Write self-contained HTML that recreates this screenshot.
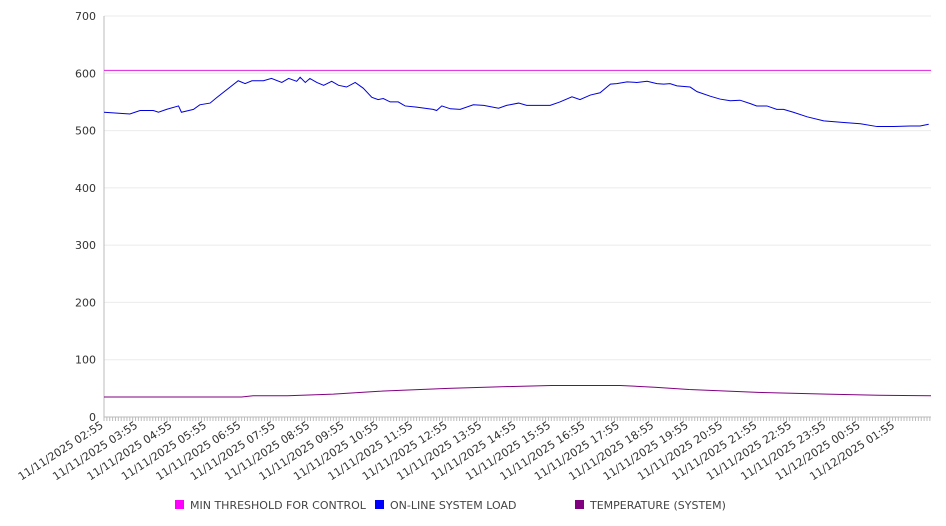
<!DOCTYPE html>
<html><head><meta charset="utf-8"><style>
html,body{margin:0;padding:0;background:#fff;}
svg{display:block;font-family:"DejaVu Sans","Liberation Sans",sans-serif;}
</style></head><body>
<svg id="chart" width="946" height="526" viewBox="0 0 946 526" xmlns="http://www.w3.org/2000/svg"></svg>
<script>
const yTicks=[0,100,200,300,400,500,600,700];
const xTickLabels=["11/11/2025 02:55","11/11/2025 03:55","11/11/2025 04:55","11/11/2025 05:55","11/11/2025 06:55","11/11/2025 07:55","11/11/2025 08:55","11/11/2025 09:55","11/11/2025 10:55","11/11/2025 11:55","11/11/2025 12:55","11/11/2025 13:55","11/11/2025 14:55","11/11/2025 15:55","11/11/2025 16:55","11/11/2025 17:55","11/11/2025 18:55","11/11/2025 19:55","11/11/2025 20:55","11/11/2025 21:55","11/11/2025 22:55","11/11/2025 23:55","11/12/2025 00:55","11/12/2025 01:55"];
const thresholdValue=605;
const loadMinutes=[0,45,63,86,95,109,130,135,156,167,185,197,234,246,258,278,292,310,322,336,342,351,359,371,383,397,409,423,438,452,467,478,487,499,513,525,545,574,580,589,604,621,644,662,688,702,723,737,778,795,816,830,848,865,883,894,912,929,947,964,976,987,999,1022,1034,1057,1074,1092,1109,1127,1138,1156,1173,1185,1202,1226,1255,1290,1319,1348,1377,1406,1423,1438];
const loadValues=[532,529,535,535,532,537,543,532,537,545,548,558,587,582,587,587,591,584,591,586,593,584,591,584,579,586,579,576,584,574,558,554,556,550,550,543,541,537,535,543,538,537,545,544,539,544,548,544,544,550,559,554,562,566,581,582,585,584,586,582,581,582,578,576,568,560,555,552,553,547,543,543,537,537,532,524,517,514,512,507,507,508,508,511];
const tempMinutes=[0,240,260,320,400,480,600,700,780,900,960,1020,1140,1260,1350,1442];
const tempValues=[35,35,37,37,40,45,50,53,55,55,52,48,43,40,38,37];

const svg=document.getElementById('chart');
const NS='http://www.w3.org/2000/svg';
const L=104,R=931,T=16,B=417,MAXM=1442;
const xs=m=>L+m*(R-L)/MAXM;
const ys=v=>B-v*(B-T)/700;
function mk(tag,attrs,parent){const e=document.createElementNS(NS,tag);for(const k in attrs)e.setAttribute(k,attrs[k]);(parent||svg).appendChild(e);return e;}

yTicks.forEach(v=>{
  const g=mk('line',{x1:L,x2:R,y1:ys(v),y2:ys(v),stroke:v===0?'#bbb':'#ebebeb','stroke-width':1});
  
  
  const t=mk('text',{x:96,y:ys(v)+4,'text-anchor':'end','font-size':11,fill:'#333'});
  t.textContent=v;
  
  
});
const ya=mk('line',{x1:L,x2:L,y1:T,y2:B,stroke:'#bbb'});


for(let m=0;m<=MAXM;m+=5){
  const tk=mk('line',{x1:xs(m),x2:xs(m),y1:B,y2:B+4,stroke:'#bbb'});
  
  
}
xTickLabels.forEach((s,i)=>{
  const x=xs(i*60),y=B+10;
  const t=mk('text',{x:x,y:y,'text-anchor':'end','font-size':11,fill:'#333',transform:`rotate(-33 ${x} ${y})`});
  t.textContent=s;
  
  
});
const th=mk('line',{x1:L,x2:R,y1:ys(thresholdValue),y2:ys(thresholdValue),stroke:'#e020e0','stroke-width':1});


const lp=mk('polyline',{points:loadMinutes.map((m,i)=>xs(m)+','+ys(loadValues[i])).join(' '),fill:'none',stroke:'#0000dd','stroke-width':1});


const tp=mk('polyline',{points:tempMinutes.map((m,i)=>xs(m)+','+ys(tempValues[i])).join(' '),fill:'none',stroke:'#800080','stroke-width':1});



const leg=[["MIN THRESHOLD FOR CONTROL","#ff00ff",175],["ON-LINE SYSTEM LOAD","#0000ff",375],["TEMPERATURE (SYSTEM)","#800080",575]];
leg.forEach(l=>{
  const g=mk('g',{});
  
  
  mk('rect',{x:l[2],y:500,width:9,height:9,fill:l[1]},g);
  const t=mk('text',{x:l[2]+15,y:509,'font-size':11,fill:'#444'},g);
  t.textContent=l[0];
});
</script>
</body></html>
